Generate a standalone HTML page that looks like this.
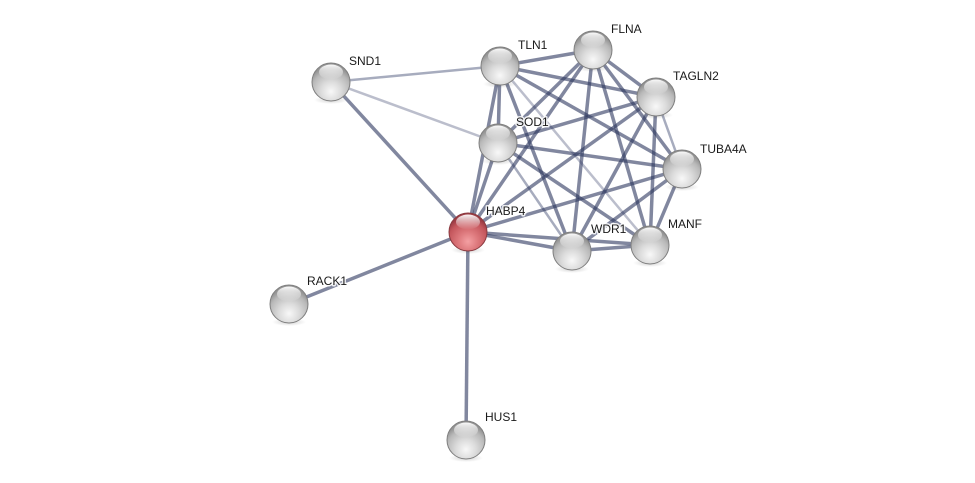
<!DOCTYPE html>
<html>
<head>
<meta charset="utf-8">
<style>
  html,body{margin:0;padding:0;background:#fff;}
  svg{display:block;}
  text{font-family:"Liberation Sans",Arial,sans-serif;font-size:12px;fill:#1a1a1a;}
  .halo{stroke:#fff;stroke-width:3px;stroke-linejoin:round;fill:#fff;opacity:0.85;}
</style>
</head>
<body>
<svg width="975" height="483" viewBox="0 0 975 483" xmlns="http://www.w3.org/2000/svg">
  <defs>
    <radialGradient id="gGray" cx="50%" cy="75%" r="65%">
      <stop offset="0%" stop-color="#f8f8f8"/>
      <stop offset="40%" stop-color="#dcdcdc"/>
      <stop offset="80%" stop-color="#b8b8b8"/>
      <stop offset="100%" stop-color="#949494"/>
    </radialGradient>
    <radialGradient id="gRed" cx="50%" cy="75%" r="65%">
      <stop offset="0%" stop-color="#f4a0a3"/>
      <stop offset="40%" stop-color="#dd787c"/>
      <stop offset="80%" stop-color="#c4565c"/>
      <stop offset="100%" stop-color="#9c3c44"/>
    </radialGradient>
    <linearGradient id="hl" x1="0" y1="0" x2="0" y2="1">
      <stop offset="0%" stop-color="#fff" stop-opacity="0.95"/>
      <stop offset="100%" stop-color="#fff" stop-opacity="0"/>
    </linearGradient>
    <radialGradient id="sh" cx="50%" cy="50%" r="50%">
      <stop offset="0%" stop-color="#000" stop-opacity="0.18"/>
      <stop offset="100%" stop-color="#000" stop-opacity="0"/>
    </radialGradient>
  </defs>

  <g stroke-linecap="butt" fill="none">
    <g stroke="rgb(60,70,110)" stroke-width="2.5">
      <line x1="331" y1="82" x2="500" y2="66" stroke-opacity="0.45"/>
      <line x1="331" y1="82" x2="498" y2="143" stroke-opacity="0.35"/>
      <line x1="500" y1="66" x2="650" y2="245" stroke-opacity="0.35"/>
      <line x1="656" y1="97" x2="682" y2="169" stroke-opacity="0.45"/>
      <line x1="498" y1="143" x2="572" y2="251" stroke-opacity="0.45"/>
    </g>
    <g stroke="rgb(45,55,95)" stroke-opacity="0.6" stroke-width="3.5">
      <line x1="468" y1="232" x2="331" y2="82"/>
      <line x1="468" y1="232" x2="289" y2="304"/>
      <line x1="468" y1="232" x2="466" y2="440"/>
      <line x1="468" y1="232" x2="500" y2="66"/>
      <line x1="468" y1="232" x2="498" y2="143"/>
      <line x1="468" y1="232" x2="593" y2="50"/>
      <line x1="468" y1="232" x2="656" y2="97"/>
      <line x1="468" y1="232" x2="682" y2="169"/>
      <line x1="468" y1="232" x2="572" y2="251"/>
      <line x1="468" y1="232" x2="650" y2="245"/>
      <line x1="500" y1="66" x2="593" y2="50"/>
      <line x1="500" y1="66" x2="656" y2="97"/>
      <line x1="500" y1="66" x2="682" y2="169"/>
      <line x1="500" y1="66" x2="498" y2="143"/>
      <line x1="500" y1="66" x2="572" y2="251"/>
      <line x1="593" y1="50" x2="656" y2="97"/>
      <line x1="593" y1="50" x2="682" y2="169"/>
      <line x1="593" y1="50" x2="650" y2="245"/>
      <line x1="593" y1="50" x2="572" y2="251"/>
      <line x1="593" y1="50" x2="498" y2="143"/>
      <line x1="656" y1="97" x2="498" y2="143"/>
      <line x1="656" y1="97" x2="572" y2="251"/>
      <line x1="656" y1="97" x2="650" y2="245"/>
      <line x1="498" y1="143" x2="682" y2="169"/>
      <line x1="498" y1="143" x2="650" y2="245"/>
      <line x1="682" y1="169" x2="572" y2="251"/>
      <line x1="682" y1="169" x2="650" y2="245"/>
      <line x1="572" y1="251" x2="650" y2="245"/>
    </g>
  </g>

  <g>
    <ellipse cx="331" cy="100" rx="17" ry="4" fill="url(#sh)"/>
    <circle cx="331" cy="82" r="19" fill="url(#gGray)" stroke="#7f7f7f" stroke-width="1"/>
    <ellipse cx="331" cy="72" rx="12" ry="7.5" fill="url(#hl)"/>

    <ellipse cx="500" cy="84" rx="17" ry="4" fill="url(#sh)"/>
    <circle cx="500" cy="66" r="19" fill="url(#gGray)" stroke="#7f7f7f" stroke-width="1"/>
    <ellipse cx="500" cy="56" rx="12" ry="7.5" fill="url(#hl)"/>

    <ellipse cx="593" cy="68" rx="17" ry="4" fill="url(#sh)"/>
    <circle cx="593" cy="50" r="19" fill="url(#gGray)" stroke="#7f7f7f" stroke-width="1"/>
    <ellipse cx="593" cy="40" rx="12" ry="7.5" fill="url(#hl)"/>

    <ellipse cx="656" cy="115" rx="17" ry="4" fill="url(#sh)"/>
    <circle cx="656" cy="97" r="19" fill="url(#gGray)" stroke="#7f7f7f" stroke-width="1"/>
    <ellipse cx="656" cy="87" rx="12" ry="7.5" fill="url(#hl)"/>

    <ellipse cx="498" cy="161" rx="17" ry="4" fill="url(#sh)"/>
    <circle cx="498" cy="143" r="19" fill="url(#gGray)" stroke="#7f7f7f" stroke-width="1"/>
    <ellipse cx="498" cy="133" rx="12" ry="7.5" fill="url(#hl)"/>

    <ellipse cx="682" cy="187" rx="17" ry="4" fill="url(#sh)"/>
    <circle cx="682" cy="169" r="19" fill="url(#gGray)" stroke="#7f7f7f" stroke-width="1"/>
    <ellipse cx="682" cy="159" rx="12" ry="7.5" fill="url(#hl)"/>

    <ellipse cx="572" cy="269" rx="17" ry="4" fill="url(#sh)"/>
    <circle cx="572" cy="251" r="19" fill="url(#gGray)" stroke="#7f7f7f" stroke-width="1"/>
    <ellipse cx="572" cy="241" rx="12" ry="7.5" fill="url(#hl)"/>

    <ellipse cx="650" cy="263" rx="17" ry="4" fill="url(#sh)"/>
    <circle cx="650" cy="245" r="19" fill="url(#gGray)" stroke="#7f7f7f" stroke-width="1"/>
    <ellipse cx="650" cy="235" rx="12" ry="7.5" fill="url(#hl)"/>

    <ellipse cx="289" cy="322" rx="17" ry="4" fill="url(#sh)"/>
    <circle cx="289" cy="304" r="19" fill="url(#gGray)" stroke="#7f7f7f" stroke-width="1"/>
    <ellipse cx="289" cy="294" rx="12" ry="7.5" fill="url(#hl)"/>

    <ellipse cx="466" cy="458" rx="17" ry="4" fill="url(#sh)"/>
    <circle cx="466" cy="440" r="19" fill="url(#gGray)" stroke="#7f7f7f" stroke-width="1"/>
    <ellipse cx="466" cy="430" rx="12" ry="7.5" fill="url(#hl)"/>

    <ellipse cx="468" cy="250" rx="17" ry="4" fill="url(#sh)"/>
    <circle cx="468" cy="232" r="19" fill="url(#gRed)" stroke="#8a3a40" stroke-width="1"/>
    <ellipse cx="468" cy="222" rx="12" ry="7.5" fill="url(#hl)"/>
  </g>

  <g>
    <text x="349" y="65" class="halo">SND1</text><text x="349" y="65">SND1</text>
    <text x="518" y="49" class="halo">TLN1</text><text x="518" y="49">TLN1</text>
    <text x="611" y="33" class="halo">FLNA</text><text x="611" y="33">FLNA</text>
    <text x="673" y="80" class="halo">TAGLN2</text><text x="673" y="80">TAGLN2</text>
    <text x="516" y="126" class="halo">SOD1</text><text x="516" y="126">SOD1</text>
    <text x="700" y="153" class="halo">TUBA4A</text><text x="700" y="153">TUBA4A</text>
    <text x="486" y="215" class="halo">HABP4</text><text x="486" y="215">HABP4</text>
    <text x="591" y="233" class="halo">WDR1</text><text x="591" y="233">WDR1</text>
    <text x="668" y="228" class="halo">MANF</text><text x="668" y="228">MANF</text>
    <text x="307" y="285" class="halo">RACK1</text><text x="307" y="285">RACK1</text>
    <text x="485" y="421" class="halo">HUS1</text><text x="485" y="421">HUS1</text>
  </g>
</svg>
</body>
</html>
